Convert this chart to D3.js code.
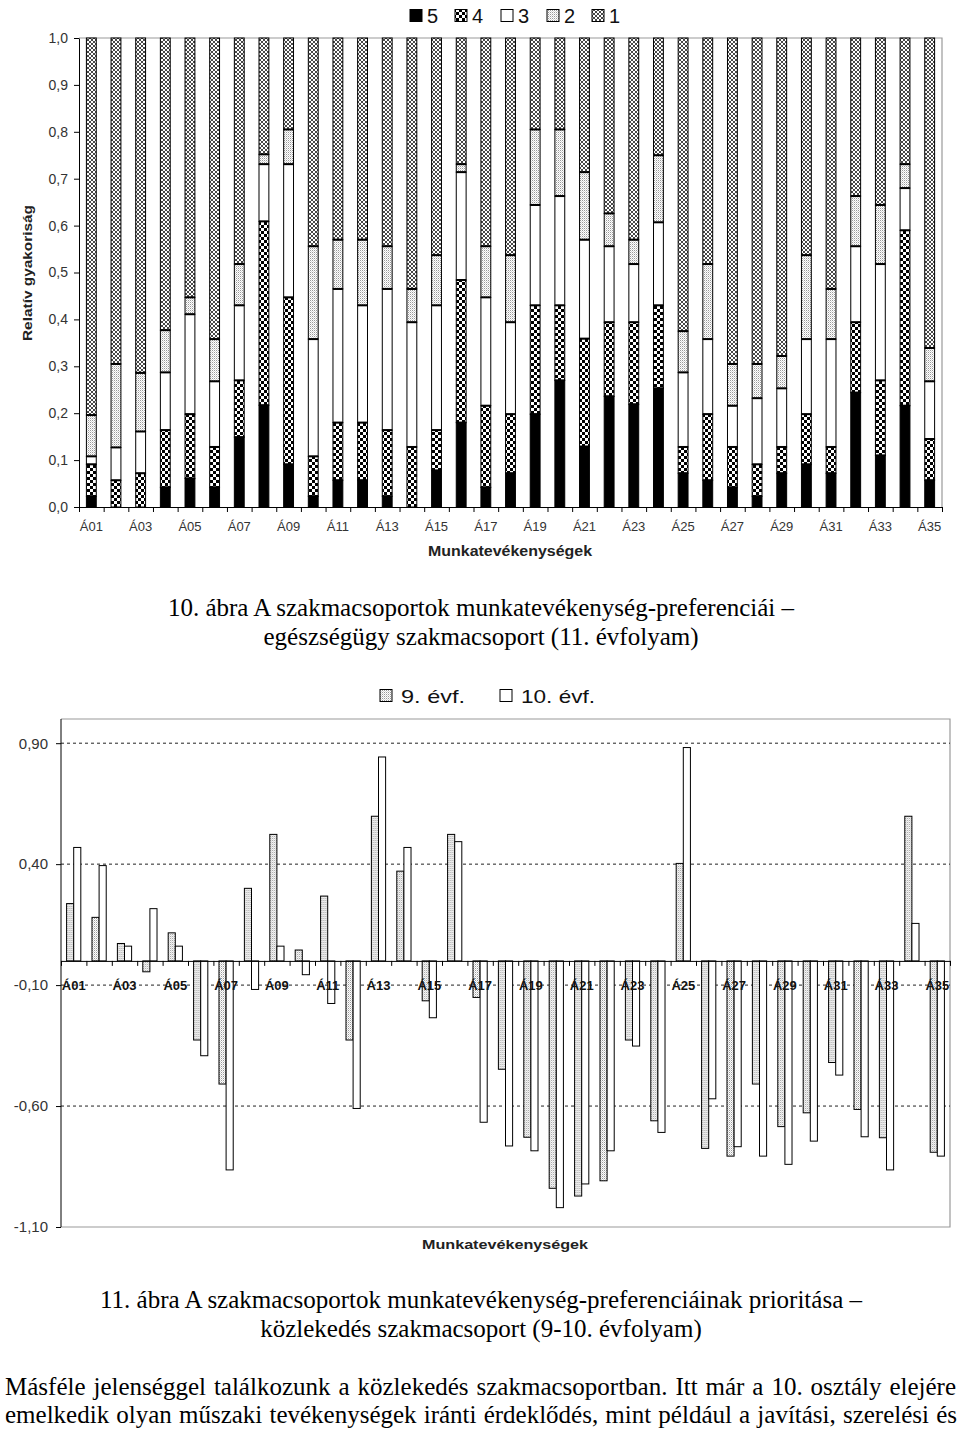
<!DOCTYPE html>
<html><head><meta charset="utf-8">
<script src="https://cdn.jsdelivr.net/npm/d3@7"></script>
<style>body{margin:0;background:#fff} svg{display:block}</style>
</head><body>
<svg id="c" width="960" height="1430"></svg>
<script>
// ---------------- DATA ----------------
const categories = ["Á01","Á02","Á03","Á04","Á05","Á06","Á07","Á08","Á09","Á10","Á11","Á12","Á13","Á14","Á15","Á16","Á17","Á18","Á19","Á20","Á21","Á22","Á23","Á24","Á25","Á26","Á27","Á28","Á29","Á30","Á31","Á32","Á33","Á34","Á35"];
// Chart 10: relative frequency of ratings 5..1
const share5 = [0.023,0,0,0.042,0.061,0.042,0.149,0.217,0.091,0.023,0.057,0.057,0.023,0,0.078,0.180,0.042,0.072,0.198,0.270,0.129,0.236,0.219,0.253,0.072,0.057,0.042,0.023,0.072,0.091,0.072,0.244,0.110,0.216,0.057];
const share4 = [0.068,0.057,0.072,0.122,0.137,0.086,0.121,0.392,0.356,0.085,0.123,0.123,0.141,0.128,0.086,0.304,0.174,0.126,0.232,0.160,0.230,0.158,0.175,0.177,0.056,0.141,0.086,0.068,0.056,0.107,0.056,0.150,0.160,0.374,0.088];
const share3 = [0.017,0.070,0.089,0.123,0.213,0.140,0.160,0.122,0.284,0.250,0.285,0.250,0.301,0.266,0.266,0.230,0.231,0.196,0.214,0.233,0.211,0.162,0.124,0.177,0.159,0.160,0.088,0.141,0.125,0.160,0.230,0.162,0.248,0.090,0.123];
const share2 = [0.088,0.178,0.125,0.090,0.036,0.090,0.088,0.021,0.074,0.198,0.105,0.140,0.091,0.071,0.107,0.017,0.109,0.143,0.161,0.142,0.144,0.070,0.052,0.143,0.088,0.160,0.089,0.073,0.069,0.179,0.107,0.107,0.126,0.051,0.071];
const share1 = [0.804,0.695,0.714,0.623,0.553,0.642,0.482,0.248,0.195,0.444,0.430,0.430,0.444,0.535,0.463,0.269,0.444,0.463,0.195,0.195,0.286,0.374,0.430,0.250,0.625,0.482,0.695,0.695,0.678,0.463,0.535,0.337,0.356,0.269,0.661];
const levelKeys = ["5","4","3","2","1"];
const topTickValues = [0,0.1,0.2,0.3,0.4,0.5,0.6,0.7,0.8,0.9,1.0];
const topTickLabels = ["0,0","0,1","0,2","0,3","0,4","0,5","0,6","0,7","0,8","0,9","1,0"];
// Chart 11: priority, grade 9 and grade 10
const ev9  = [0.237,0.180,0.072,-0.045,0.116,-0.327,-0.509,0.300,0.523,0.045,0.268,-0.327,0.598,0.371,-0.165,0.523,-0.151,-0.448,-0.729,-0.940,-0.972,-0.909,-0.327,-0.661,0.403,-0.775,-0.807,-0.509,-0.685,-0.628,-0.420,-0.614,-0.731,0.598,-0.791];
const ev10 = [0.469,0.394,0.061,0.216,0.061,-0.392,-0.864,-0.118,0.061,-0.057,-0.176,-0.610,0.843,0.469,-0.235,0.493,-0.667,-0.765,-0.785,-1.020,-0.922,-0.785,-0.352,-0.709,0.882,-0.570,-0.768,-0.807,-0.841,-0.745,-0.472,-0.727,-0.864,0.155,-0.807];
const botSeries = ["9. évf.","10. évf."];
const botTickValues = [0.9,0.4,-0.1,-0.6,-1.1];
const botTickLabels = ["0,90","0,40","-0,10","-0,60","-1,10"];
const xTitle = "Munkatevékenységek";
const yTitleTop = "Relatív gyakoriság";
const caption10 = ["10. ábra A szakmacsoportok munkatevékenység-preferenciái –","egészségügy szakmacsoport (11. évfolyam)"];
const caption11 = ["11. ábra A szakmacsoportok munkatevékenység-preferenciáinak prioritása –","közlekedés szakmacsoport (9-10. évfolyam)"];
const paragraph = ["Másféle jelenséggel találkozunk a közlekedés szakmacsoportban. Itt már a 10. osztály elejére","emelkedik olyan műszaki tevékenységek iránti érdeklődés, mint például a javítási, szerelési és"];

// ---------------- SETUP ----------------
const svg = d3.select("#c");
const defs = svg.append("defs");
function pat(id,w,h,draw){
  const p = defs.append("pattern").attr("id",id).attr("patternUnits","userSpaceOnUse").attr("width",w).attr("height",h);
  p.append("rect").attr("width",w).attr("height",h).attr("fill","#fff");
  draw(p);
}
pat("p4",6,6,p=>{
  p.append("rect").attr("width",3).attr("height",3).attr("fill","#000");
  p.append("rect").attr("x",3).attr("y",3).attr("width",3).attr("height",3).attr("fill","#000");
});
pat("p2",2,2,p=>{
  p.append("rect").attr("width",1).attr("height",1).attr("fill","#999");
  p.append("rect").attr("x",1).attr("y",1).attr("width",1).attr("height",1).attr("fill","#d6d6d6");
});
pat("p1",4,4,p=>{
  p.append("path").attr("d","M0,0L4,4M4,0L0,4").attr("stroke","#333").attr("stroke-width",0.9);
});
const fills = {"5":"#000","4":"url(#p4)","3":"#fff","2":"url(#p2)","1":"url(#p1)"};
const SANS = "'Liberation Sans', Arial, sans-serif";
const SERIF = "'Liberation Serif', 'Times New Roman', serif";

// ---------------- CHART 10 (stacked) ----------------
const T = {l:79, r:942, t:38, b:507};
const x1 = d3.scaleBand().domain(categories).range([T.l,T.r]).paddingInner(0.6).paddingOuter(0.3);
const y1 = d3.scaleLinear().domain([0,1]).range([T.b,T.t]);
const topRows = categories.map((c,i)=>({cat:c,"5":share5[i],"4":share4[i],"3":share3[i],"2":share2[i],"1":share1[i]}));
const stacked = d3.stack().keys(levelKeys)(topRows);
const g1 = svg.append("g");
g1.append("path").attr("d",`M${T.l},${T.t}H${T.r}V${T.b}`).attr("fill","none").attr("stroke","#9a9a9a").attr("stroke-width",1.2);
stacked.forEach(layer=>{
  g1.append("g").selectAll("rect").data(layer.filter(d=>d[1]-d[0]>0.0005)).join("rect")
    .attr("x",d=>x1(d.data.cat)).attr("y",d=>y1(Math.min(1,d[1])))
    .attr("width",x1.bandwidth()).attr("height",d=>y1(d[0])-y1(Math.min(1,d[1])))
    .attr("fill",fills[layer.key]).attr("stroke","#000").attr("stroke-width",1);
});
stacked.slice(0,4).forEach(layer=>{
  g1.append("g").selectAll("line").data(layer.filter(d=>d[1]-d[0]>0.0005)).join("line")
    .attr("x1",d=>x1(d.data.cat)).attr("x2",d=>x1(d.data.cat)+x1.bandwidth())
    .attr("y1",d=>y1(d[1])).attr("y2",d=>y1(d[1])).attr("stroke","#000").attr("stroke-width",2);
});
const ya1 = g1.append("g").attr("transform",`translate(${T.l},0)`)
  .call(d3.axisLeft(y1).tickValues(topTickValues).tickFormat((d,i)=>topTickLabels[i]).tickSize(5).tickSizeOuter(0).tickPadding(6));
ya1.selectAll("text").attr("font-family",SANS).attr("font-size",14).attr("fill","#333");
ya1.selectAll("line,path").attr("stroke","#000");
const idx1 = d3.scaleLinear().domain([0,categories.length]).range([T.l,T.r]);
const xt1 = g1.append("g").attr("transform",`translate(0,${T.b})`)
  .call(d3.axisBottom(idx1).tickValues(d3.range(categories.length+1)).tickFormat("").tickSize(5).tickSizeOuter(0));
xt1.selectAll("line,path").attr("stroke","#000");
const xl1 = g1.append("g").attr("transform",`translate(0,${T.b})`)
  .call(d3.axisBottom(x1).tickSize(0).tickPadding(15).tickFormat((d,i)=>i%2===0?d:""));
xl1.select(".domain").remove();
xl1.selectAll("text").attr("font-family",SANS).attr("font-size",13).attr("fill","#333");
g1.append("text").attr("x",510).attr("y",556).attr("text-anchor","middle").attr("font-family",SANS)
  .attr("font-weight","bold").attr("font-size",14).attr("fill","#222").attr("textLength",164).attr("lengthAdjust","spacingAndGlyphs").text(xTitle);
g1.append("text").attr("transform","translate(32,273) rotate(-90)").attr("text-anchor","middle").attr("font-family",SANS)
  .attr("font-weight","bold").attr("font-size",13).attr("fill","#222").attr("textLength",136).attr("lengthAdjust","spacingAndGlyphs").text(yTitleTop);
const legX = [410,455,501,547,592];
const lg1 = g1.append("g");
levelKeys.forEach((k,i)=>{
  lg1.append("rect").attr("x",legX[i]).attr("y",9.5).attr("width",12).attr("height",12).attr("fill",fills[k]).attr("stroke","#000");
  lg1.append("text").attr("x",legX[i]+17).attr("y",23).attr("font-family",SANS).attr("font-size",20).attr("fill","#111").text(k);
});

// ---------------- CHART 11 (grouped) ----------------
const B = {l:61, r:950, t:719, b:1227};
const x2 = d3.scaleBand().domain(categories).range([B.l,B.r]).paddingInner(0.44).paddingOuter(0.22);
const xs2 = d3.scaleBand().domain(botSeries).range([0,x2.bandwidth()]).padding(0);
const y2 = d3.scaleLinear().domain([-1.1,1.0]).range([B.b,B.t]);
const botRows = categories.map((c,i)=>({cat:c, vals:[{s:botSeries[0],v:ev9[i]},{s:botSeries[1],v:ev10[i]}]}));
const g2 = svg.append("g");
g2.append("path").attr("d",`M${B.l},${B.t}H${B.r}V${B.b}H${B.l}`).attr("fill","none").attr("stroke","#9a9a9a").attr("stroke-width",1.2);
g2.append("g").selectAll("line").data(botTickValues.filter(v=>v>-1.05)).join("line")
  .attr("x1",B.l).attr("x2",B.r).attr("y1",d=>y2(d)).attr("y2",d=>y2(d))
  .attr("stroke","#222").attr("stroke-width",1).attr("stroke-dasharray","3,3");
const sFill = {"9. évf.":"url(#p2)","10. évf.":"#fff"};
g2.append("g").selectAll("g").data(botRows).join("g")
  .attr("transform",d=>`translate(${x2(d.cat)},0)`)
  .selectAll("rect").data(d=>d.vals).join("rect")
  .attr("x",d=>xs2(d.s)).attr("width",xs2.bandwidth())
  .attr("y",d=>y2(Math.max(0,d.v))).attr("height",d=>Math.abs(y2(d.v)-y2(0)))
  .attr("fill",d=>sFill[d.s]).attr("stroke","#000").attr("stroke-width",1);
const ya2 = g2.append("g").attr("transform",`translate(${B.l},0)`)
  .call(d3.axisLeft(y2).tickValues(botTickValues).tickFormat((d,i)=>botTickLabels[i]).tickSize(5).tickSizeOuter(0).tickPadding(8));
ya2.select(".domain").attr("d",`M0,${B.t}V${B.b}`);
ya2.selectAll("text").attr("font-family",SANS).attr("font-size",15).attr("fill","#333");
ya2.selectAll("line,path").attr("stroke","#000");
const idx2 = d3.scaleLinear().domain([0,categories.length]).range([B.l,B.r]);
const xt2 = g2.append("g").attr("transform",`translate(0,${y2(0)})`)
  .call(d3.axisBottom(idx2).tickValues(d3.range(categories.length+1)).tickFormat("").tickSize(5).tickSizeOuter(0));
xt2.selectAll("line,path").attr("stroke","#000");
const xl2 = g2.append("g").attr("transform",`translate(0,${y2(0)})`)
  .call(d3.axisBottom(x2).tickSize(0).tickPadding(20).tickFormat((d,i)=>i%2===0?d:""));
xl2.select(".domain").remove();
xl2.selectAll("text").attr("font-family",SANS).attr("font-size",13).attr("font-weight","bold").attr("fill","#111");
g2.append("text").attr("x",505).attr("y",1249).attr("text-anchor","middle").attr("font-family",SANS)
  .attr("font-weight","bold").attr("font-size",13).attr("fill","#222").attr("textLength",166).attr("lengthAdjust","spacingAndGlyphs").text(xTitle);
const leg2 = [{x:380,tl:64},{x:500,tl:74}];
botSeries.forEach((s,i)=>{
  g2.append("rect").attr("x",leg2[i].x).attr("y",689.5).attr("width",12).attr("height",12).attr("fill",sFill[s]).attr("stroke","#000");
  g2.append("text").attr("x",leg2[i].x+21).attr("y",703).attr("font-family",SANS).attr("font-size",19).attr("fill","#111")
    .attr("textLength",leg2[i].tl).attr("lengthAdjust","spacingAndGlyphs").text(s);
});

// ---------------- TEXT ----------------
function centered(lines, ys){
  lines.forEach((t,i)=>svg.append("text").attr("x",481).attr("y",ys[i]).attr("text-anchor","middle")
    .attr("font-family",SERIF).attr("font-size",25).attr("fill","#000").text(t));
}
centered(caption10,[616,645]);
centered(caption11,[1308,1337]);
function justified(line, x0, x1p, y){
  const words = line.split(" ");
  const tmp = svg.append("text").attr("font-family",SERIF).attr("font-size",25);
  const widths = words.map(w=>{tmp.text(w); return tmp.node().getComputedTextLength();});
  tmp.remove();
  const total = d3.sum(widths);
  const gap = (x1p - x0 - total)/(words.length-1);
  let cx = x0;
  const t = svg.append("text").attr("y",y).attr("font-family",SERIF).attr("font-size",25).attr("fill","#000");
  words.forEach((w,i)=>{ t.append("tspan").attr("x",cx).text(w); cx += widths[i]+gap; });
}
justified(paragraph[0],5,956,1395);
justified(paragraph[1],5,957,1423);
</script>
</body></html>
